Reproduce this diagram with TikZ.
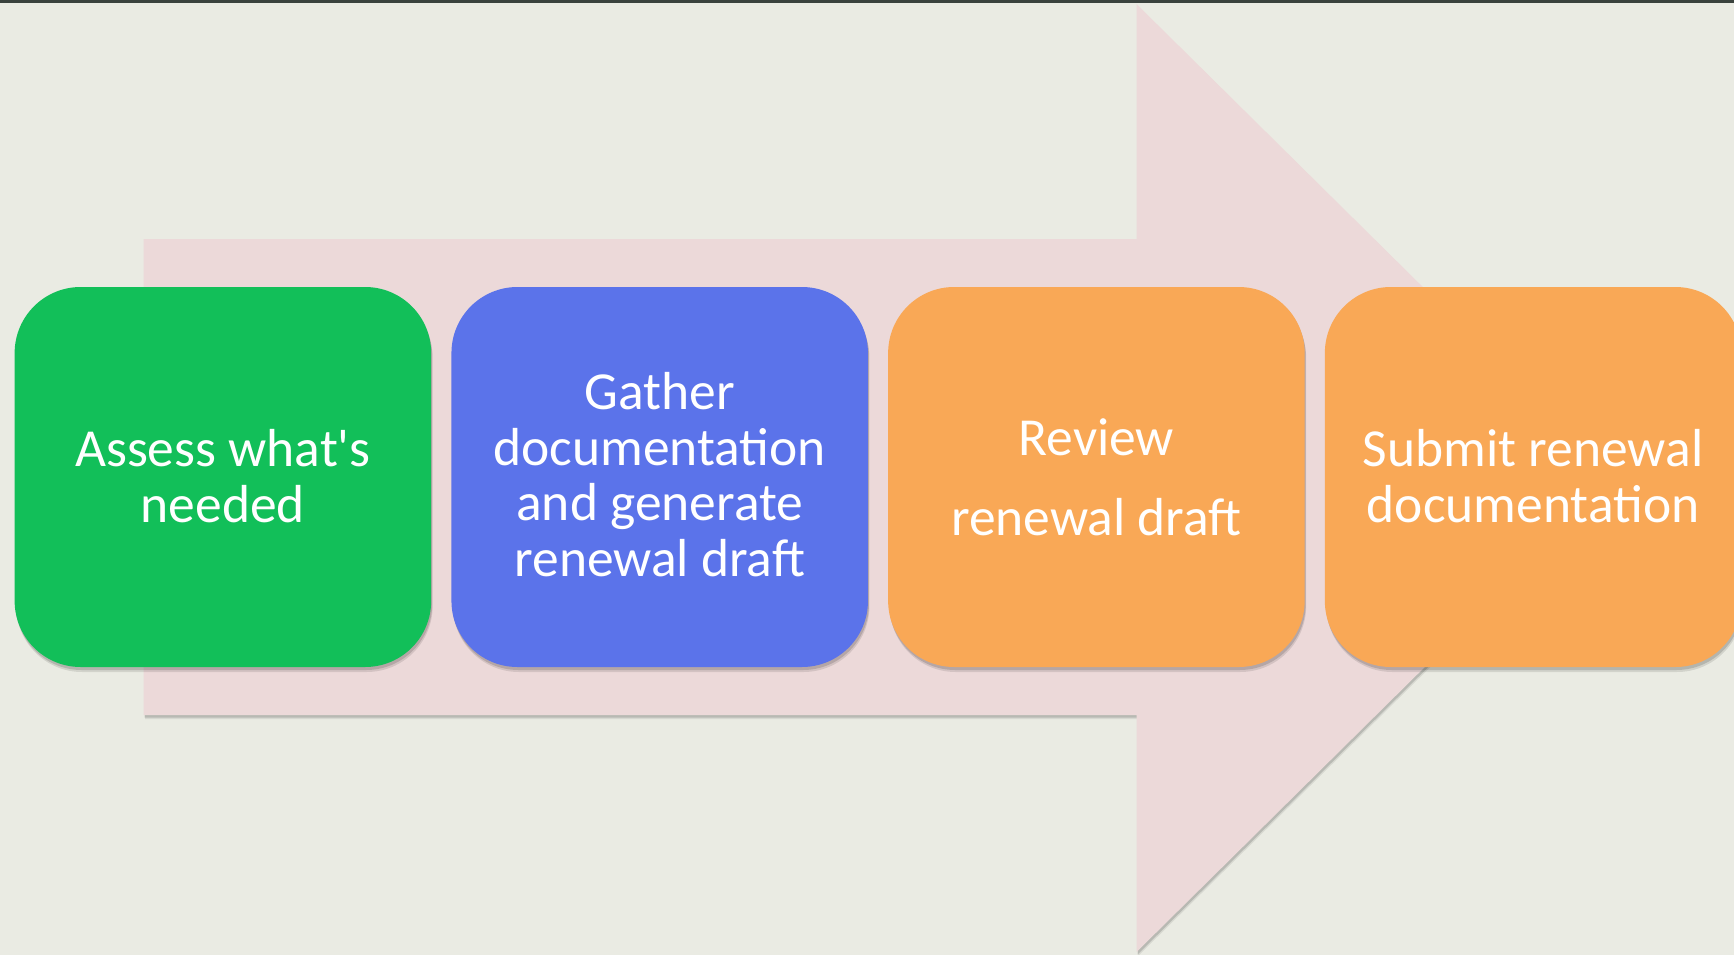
\documentclass[tikz,border=0pt]{standalone}
\usepackage{fontspec}
\setmainfont{Carlito}
\usetikzlibrary{shadows}
\definecolor{bgc}{HTML}{EAEBE3}
\definecolor{topbar}{HTML}{3A423D}
\definecolor{arrowc}{HTML}{ECD9D9}
\definecolor{greenc}{HTML}{12BF59}
\definecolor{bluec}{HTML}{5B73EA}
\definecolor{orangec}{HTML}{F9A856}
\tikzset{
  stepbox/.style={rectangle, rounded corners=66pt, minimum width=416.5pt, minimum height=380pt, inner sep=0pt, draw=none,
    drop shadow={shadow xshift=1.5pt, shadow yshift=-5pt, opacity=0.10, fill=black},
    drop shadow={shadow xshift=1pt, shadow yshift=-3pt, opacity=0.14, fill=black}},
  lbl/.style={text=white, font=\fontsize{53.5}{55.7}\selectfont, align=center, inner sep=0pt, anchor=base},
  bigarrow/.style={fill=arrowc,
    drop shadow={shadow xshift=1.5pt, shadow yshift=-4pt, opacity=0.08, fill=black},
    drop shadow={shadow xshift=1pt, shadow yshift=-2.5pt, opacity=0.14, fill=black}}
}
\begin{document}
\begin{tikzpicture}[x=1pt,y=-1pt]
\useasboundingbox (0,0) rectangle (1734,955);
\fill[bgc] (0,0) rectangle (1734,955);
\fill[topbar] (0,0) rectangle (1734,3);
\path[bigarrow] (143.5,239) -- (1136.5,239) -- (1136.5,4) -- (1616,478) -- (1136.5,952) -- (1136.5,715) -- (143.5,715) -- cycle;
\node[stepbox, fill=greenc] (b1) at (222.9,477) {};
\node[stepbox, fill=bluec] (b2) at (659.7,477) {};
\node[stepbox, fill=orangec] (b3) at (1096.4,477) {};
\node[stepbox, fill=orangec] (b4) at (1533.1,477) {};
\node[lbl] (t1) at (222.9,522.3) {Assess what\textquotesingle s\\needed};
\node[lbl] (t2) at (659.7,576.4) {Gather\\documentation\\and generate\\renewal draft};
\node[lbl] (t3) at (1096.4,535.7) {Review\\[24.3pt]renewal draft};
\node[lbl] (t4) at (1533.1,522.3) {Submit renewal\\documentation};
\end{tikzpicture}
\end{document}
